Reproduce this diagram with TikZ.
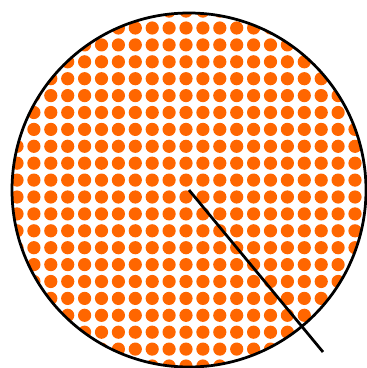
\documentclass[tikz,border=0pt]{standalone}
\usepackage{tikz}
\usetikzlibrary{calc}

\definecolor{dotorange}{RGB}{255,102,0}

\begin{document}
\begin{tikzpicture}[
  x=0.02cm, y=-0.02cm,
  rim/.style={draw,line width=0.055cm},
  spot/.style={fill=dotorange}
]
  \useasboundingbox (0,0) rectangle (367,368);
  \coordinate (centre) at (189,190);
  \coordinate (tip) at (323,352);

  % dotted filling, clipped to the disc
  \begin{scope}
    \clip (centre) circle (177);
    \foreach \i in {-11,...,11}
      \foreach \j in {-11,...,11}
        \fill[spot] ($(centre)+(\i*16.9-3,\j*16.9-9.9)$) circle (6.6);
  \end{scope}

  \draw[rim] (centre) circle (177);
  \draw[line width=0.055cm] (centre) -- (tip);
\end{tikzpicture}
\end{document}
